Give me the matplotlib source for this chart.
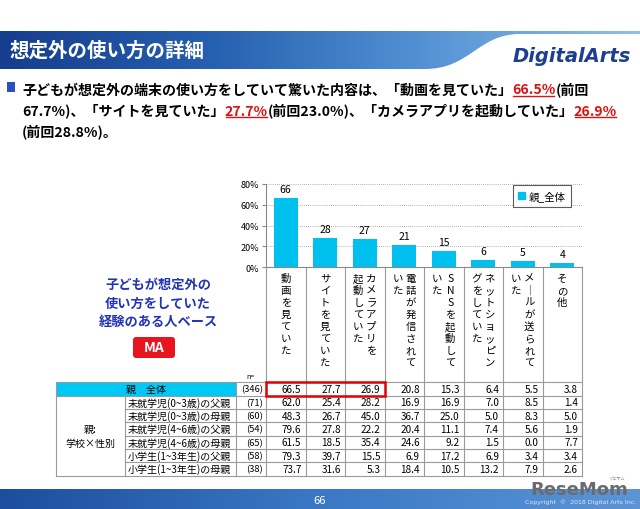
import matplotlib
matplotlib.use('Agg')
import matplotlib.pyplot as plt
import numpy as np
from matplotlib.patches import Rectangle, FancyBboxPatch, PathPatch, Patch
from matplotlib.path import Path
from matplotlib.colors import LinearSegmentedColormap
from matplotlib.transforms import blended_transform_factory, offset_copy
from matplotlib import font_manager

plt.rcParams['font.family'] = ['Noto Sans CJK JP', 'DejaVu Sans']

# ---------------- data ----------------
title = "想定外の使い方の詳細"
summary_lines = [
    [("子どもが想定外の端末の使い方をしていて驚いた内容は、「動画を見ていた」", False), ("66.5%", True), ("(前回", False)],
    [("67.7%)、「サイトを見ていた」", False), ("27.7%", True), ("(前回23.0%)、「カメラアプリを起動していた」", False), ("26.9%", True)],
    [("(前回28.8%)。", False)],
]
categories = ["動画を見ていた", "サイトを見ていた", "カメラアプリを\n起動していた", "電話が発信されて\nいた",
              "SNSを起動して\nいた", "ネットショッピン\nグをしていた", "メールが送られて\nいた", "その他"]
bar_values = [66.5, 27.7, 26.9, 20.8, 15.3, 6.4, 5.5, 3.8]
bar_labels = ["66", "28", "27", "21", "15", "6", "5", "4"]
series_name = "親_全体"
y_ticks = [0, 20, 40, 60, 80]
y_tick_labels = ["0%", "20%", "40%", "60%", "80%"]

total_label = "親　全体"
total_n = "(346)"
total_values = ["66.5", "27.7", "26.9", "20.8", "15.3", "6.4", "5.5", "3.8"]
group_label = "親:\n学校×性別"
row_labels = ["未就学児(0~3歳)の父親", "未就学児(0~3歳)の母親", "未就学児(4~6歳)の父親",
              "未就学児(4~6歳)の母親", "小学生(1~3年生)の父親", "小学生(1~3年生)の母親"]
row_ns = ["(71)", "(60)", "(54)", "(65)", "(58)", "(38)"]
row_values = [
    ["62.0", "25.4", "28.2", "16.9", "16.9", "7.0", "8.5", "1.4"],
    ["48.3", "26.7", "45.0", "36.7", "25.0", "5.0", "8.3", "5.0"],
    ["79.6", "27.8", "22.2", "20.4", "11.1", "7.4", "5.6", "1.9"],
    ["61.5", "18.5", "35.4", "24.6", "9.2", "1.5", "0.0", "7.7"],
    ["79.3", "39.7", "15.5", "6.9", "17.2", "6.9", "3.4", "3.4"],
    ["73.7", "31.6", "5.3", "18.4", "10.5", "13.2", "7.9", "2.6"],
]
highlight_cols = 3
base_note = ["子どもが想定外の", "使い方をしていた", "経験のある人ベース"]
ma_label = "MA"
page_no = "66"
copyright_text = "Copyright  ©  2018 Digital Arts Inc."

# ---------------- layout ----------------
W, H = 640, 510
PL, PR, PT, PB = 266, 582, 185, 268
TBL_T, ROW_H = 383.3, 13.33
TBL_L, GRP_R, LAB_R = 56, 125, 236
LINE_C = '#9a9a9a'
BAR_C = '#00c0f0'

installed = {f.name for f in font_manager.fontManager.ttflist}
logo_family = 'Liberation Sans Narrow' if 'Liberation Sans Narrow' in installed else 'DejaVu Sans'
logo_size = 18 if logo_family == 'Liberation Sans Narrow' else 13

fig = plt.figure(figsize=(6.4, 5.1), dpi=100)
bg = fig.add_axes([0, 0, 1, 1])
bg.set_xlim(0, W); bg.set_ylim(H, 0); bg.axis('off')

# header banner
grad = np.linspace(0, 1, 256).reshape(1, -1)
cmap_b = LinearSegmentedColormap.from_list('b', ['#163d8e', '#2660b0', '#5592d4', '#8fc0ea'])
im = bg.imshow(grad, extent=[0, W, 70, 32], cmap=cmap_b, aspect='auto', zorder=1)
verts = [(0, 32), (W, 32), (W, 35), (520, 35), (478, 35), (470, 70), (425, 70), (0, 70), (0, 32)]
codes = [Path.MOVETO, Path.LINETO, Path.LINETO, Path.LINETO, Path.CURVE4, Path.CURVE4, Path.CURVE4,
         Path.LINETO, Path.CLOSEPOLY]
clip = PathPatch(Path(verts, codes), facecolor='none', edgecolor='none', transform=bg.transData)
bg.add_patch(clip)
im.set_clip_path(clip)
bg.text(10, 51, title, color='white', fontsize=14, fontweight='bold', va='center', zorder=3)
bg.text(572, 57, "DigitalArts", color='#1c3f94', fontsize=14, fontweight='bold', style='italic',
        ha='center', va='center', family='DejaVu Sans', zorder=3)

# footer
cmap_f = LinearSegmentedColormap.from_list('f', ['#1d4e9e', '#3a78c6', '#5b95d6'])
bg.imshow(grad, extent=[0, W, H, 490], cmap=cmap_f, aspect='auto', zorder=1)
bg.text(320, 501, page_no, color='white', fontsize=8, ha='center', va='center', zorder=3)
bg.text(636, 502, copyright_text, color='#dde8f5', fontsize=4.5, ha='right', va='center',
        family='DejaVu Sans', zorder=3)
bg.text(628, 495, "ReseMom", color='#6b6b6b', fontsize=logo_size, fontweight='bold', ha='right',
        va='baseline', family=logo_family, zorder=4)
bg.text(616, 479, "リセマム", color='#777777', fontsize=3, ha='center', va='center', zorder=4)

# summary text
renderer = fig.canvas.get_renderer()
bg.add_patch(Rectangle((7, 83), 8, 10, facecolor='#2b4fc0', edgecolor='none'))
for li, segs in enumerate(summary_lines):
    x = 22
    yb = 94.5 + li * 21
    for s, red in segs:
        t = bg.text(x, yb, s, fontsize=10.1, fontweight='bold', va='baseline',
                    color='#e01010' if red else 'black')
        w = t.get_window_extent(renderer).width
        if red:
            bg.plot([x + 1, x + w - 1], [yb + 2.5, yb + 2.5], color='#e01010', lw=1)
        x += w

# base note + MA
for i, s in enumerate(base_note):
    bg.text(158, 285 + i * 18.5, s, color='#2233bb', fontsize=9.5, fontweight='bold',
            ha='center', va='center')
bg.add_patch(FancyBboxPatch((133, 338), 42, 21, boxstyle='round,pad=0,rounding_size=3',
                            facecolor='#e8141e', edgecolor='none'))
bg.text(154, 348.5, ma_label, color='white', fontsize=10, fontweight='bold', ha='center', va='center')

# chart
ax = fig.add_axes([PL / W, 1 - PB / H, (PR - PL) / W, (PB - PT) / H])
ax.patch.set_alpha(0)
x = np.arange(len(bar_values))
ax.bar(x, bar_values, width=0.6, color=BAR_C, zorder=3)
ax.set_xlim(-0.5, len(bar_values) - 0.5)
ax.set_ylim(0, 80)
ax.set_yticks(y_ticks)
ax.set_yticklabels(y_tick_labels, fontsize=6.5)
ax.set_xticks([])
ax.yaxis.grid(True, linestyle=(0, (1, 1.5)), color='#999999', lw=0.6, zorder=0)
for sp in ['top', 'right']:
    ax.spines[sp].set_visible(False)
for sp in ['left', 'bottom']:
    ax.spines[sp].set_color('#888888'); ax.spines[sp].set_linewidth(0.8)
ax.tick_params(axis='y', length=3, color='#888888', pad=2)
for i, (v, lab) in enumerate(zip(bar_values, bar_labels)):
    ax.annotate(lab, (i, v), xytext=(0, 3), textcoords='offset points', ha='center', va='bottom',
                fontsize=7.5, annotation_clip=False)
leg = ax.legend(handles=[Patch(color=BAR_C)], labels=[series_name], loc='upper right',
                bbox_to_anchor=(0.965, 0.985), fontsize=7.5, frameon=True, fancybox=False,
                edgecolor='#333333', handlelength=0.6, handleheight=0.6, handletextpad=0.4,
                borderpad=0.5, borderaxespad=0)
leg.get_frame().set_linewidth(0.8)

# category grid + table (x via chart data coordinates)
tr = blended_transform_factory(ax.transData, bg.transData)
ncat = len(categories)
for k in range(ncat + 1):
    bg.plot([k - 0.5, k - 0.5], [PB, TBL_T + ROW_H * 7], transform=tr, color=LINE_C, lw=0.8, clip_on=False)
for i, cat in enumerate(categories):
    cols = cat.split('\n')
    offs = [0] if len(cols) == 1 else [6.5, -6.5]
    for j, col in enumerate(cols):
        ttr = offset_copy(tr, fig=fig, x=offs[j], y=0, units='dots')
        for k, ch in enumerate(col):
            ch = '｜' if ch == 'ー' else ch
            bg.text(i, 279 + k * 12, ch, transform=ttr, fontsize=7.5, ha='center', va='center', clip_on=False)

nrows = 1 + len(row_labels)
tbl_b = TBL_T + ROW_H * nrows
bg.add_patch(Rectangle((TBL_L, TBL_T), LAB_R - TBL_L, ROW_H, facecolor='#00c8f5', edgecolor='none', zorder=0))
for r in range(nrows + 1):
    yy = TBL_T + r * ROW_H
    x0 = TBL_L if r in (0, 1, nrows) else GRP_R
    bg.plot([x0, PR], [yy, yy], color=LINE_C, lw=0.8)
bg.plot([TBL_L, TBL_L], [TBL_T, tbl_b], color=LINE_C, lw=0.8)
bg.plot([GRP_R, GRP_R], [TBL_T + ROW_H, tbl_b], color=LINE_C, lw=0.8)
bg.plot([LAB_R, LAB_R], [TBL_T, tbl_b], color=LINE_C, lw=0.8)

bg.text(250, 377, "n=", fontsize=5, ha='center', va='center')
rtr = offset_copy(tr, fig=fig, x=-4, y=0, units='dots')
FS = 7.2
y0 = TBL_T + ROW_H / 2
bg.text((TBL_L + LAB_R) / 2, y0, total_label, fontsize=FS, ha='center', va='center')
bg.text(PL - 3, y0, total_n, fontsize=FS - 0.5, ha='right', va='center')
for j, v in enumerate(total_values):
    bg.text(j + 0.5, y0, v, transform=rtr, fontsize=FS, ha='right', va='center')
for r, (lab, n, vals) in enumerate(zip(row_labels, row_ns, row_values)):
    yy = TBL_T + (r + 1.5) * ROW_H
    bg.text(GRP_R + 3, yy, lab, fontsize=FS, ha='left', va='center')
    bg.text(PL - 3, yy, n, fontsize=FS - 0.5, ha='right', va='center')
    for j, v in enumerate(vals):
        bg.text(j + 0.5, yy, v, transform=rtr, fontsize=FS, ha='right', va='center')
bg.text((TBL_L + GRP_R) / 2, TBL_T + ROW_H * (1 + len(row_labels) / 2), group_label, fontsize=FS,
        ha='center', va='center', linespacing=1.5)
bg.add_patch(Rectangle((-0.5, TBL_T), highlight_cols, ROW_H, transform=tr, fill=False,
                       edgecolor='#e00000', lw=1.8, clip_on=False, zorder=5))

bg.set_xlim(0, W); bg.set_ylim(H, 0)
fig.savefig('out.png', dpi=100)
